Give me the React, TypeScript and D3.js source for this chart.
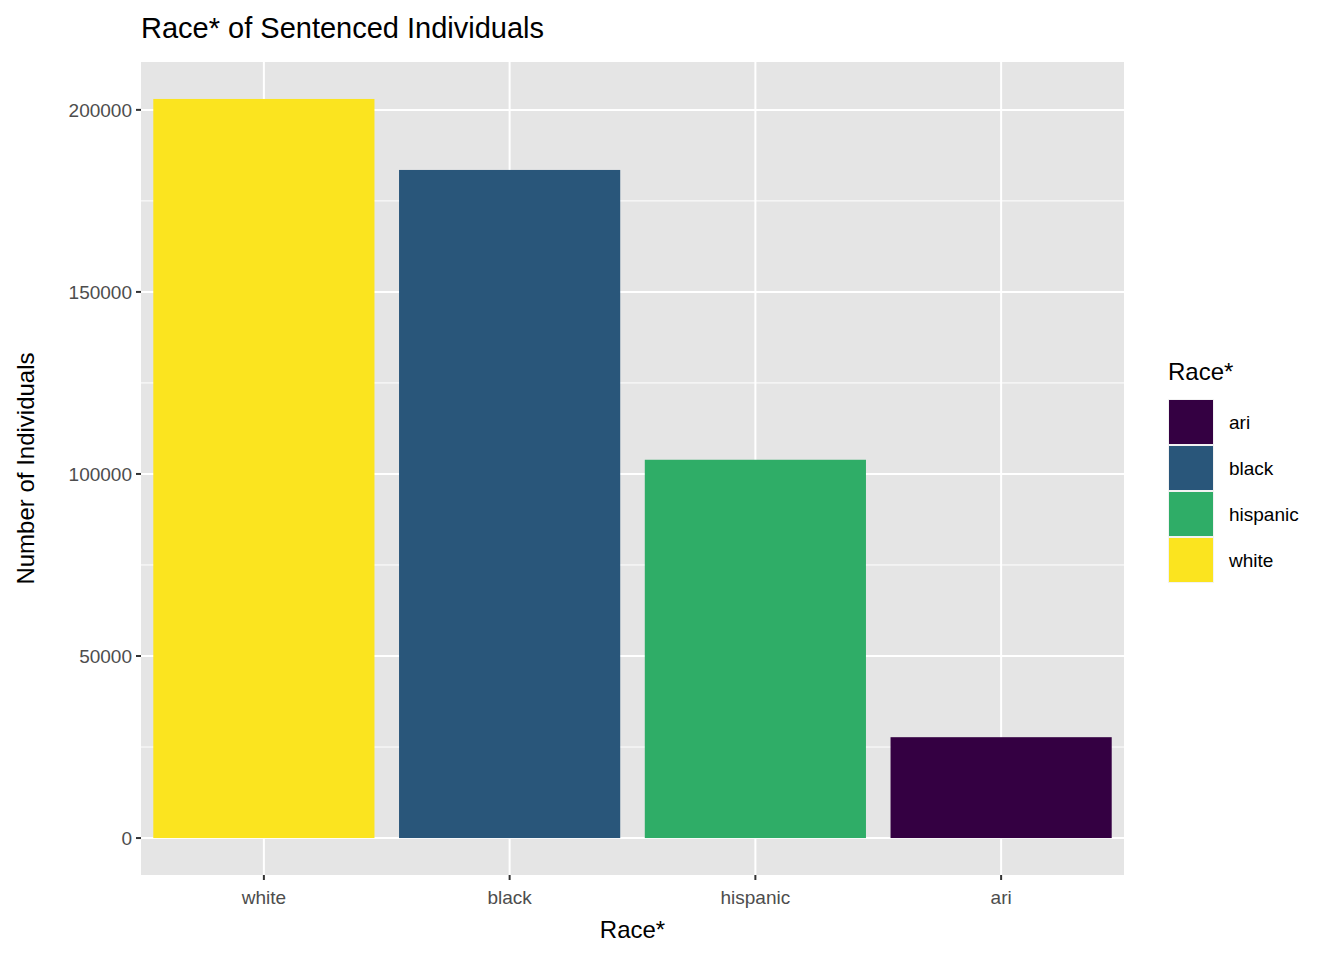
import * as d3 from "d3";

const categories = ["white", "black", "hispanic", "ari"];
const counts = [203000, 183500, 103900, 27700];
const legendOrder = ["ari", "black", "hispanic", "white"];
const colorMap: Record<string, string> = { ari: "#340042", black: "#29567A", hispanic: "#2FAD67", white: "#FBE41F" };
const yTicks = [0, 50000, 100000, 150000, 200000];

const W = 1344, H = 960;
const left = 141, right = 1124, top = 62, bottom = 875;

export default function App() {
  const x = d3.scaleBand().domain(categories).range([left, right]).paddingInner(0.1).paddingOuter(0.05);
  const y = d3.scaleLinear().domain([-10150, 213150]).range([bottom, top]);
  const minor = yTicks.slice(0, -1).map((t) => t + 25000);
  const font = "Liberation Sans, Arial, sans-serif";
  return (
    <svg width={W} height={H} style={{ display: "block", margin: -8 }} fontFamily={font}>
      <rect width={W} height={H} fill="white" />
      <rect x={left} y={top} width={right - left} height={bottom - top} fill="#E5E5E5" />
      {minor.map((t) => (
        <line key={t} x1={left} x2={right} y1={y(t)} y2={y(t)} stroke="white" strokeWidth={1} />
      ))}
      {yTicks.map((t) => (
        <line key={t} x1={left} x2={right} y1={y(t)} y2={y(t)} stroke="white" strokeWidth={2} />
      ))}
      {categories.map((c) => (
        <line key={c} x1={x(c)! + x.bandwidth() / 2} x2={x(c)! + x.bandwidth() / 2} y1={top} y2={bottom} stroke="white" strokeWidth={2} />
      ))}
      {categories.map((c, i) => (
        <rect key={c} x={x(c)} width={x.bandwidth()} y={y(counts[i])} height={y(0) - y(counts[i])} fill={colorMap[c]} />
      ))}
      {yTicks.map((t) => (
        <g key={t}>
          <line x1={left - 5} x2={left} y1={y(t)} y2={y(t)} stroke="#333" strokeWidth={2} />
          <text x={left - 9} y={y(t)} dy="0.35em" textAnchor="end" fontSize={19} fill="#4D4D4D">{t}</text>
        </g>
      ))}
      {categories.map((c) => (
        <g key={c}>
          <line x1={x(c)! + x.bandwidth() / 2} x2={x(c)! + x.bandwidth() / 2} y1={bottom} y2={bottom + 5} stroke="#333" strokeWidth={2} />
          <text x={x(c)! + x.bandwidth() / 2} y={bottom + 29} textAnchor="middle" fontSize={19} fill="#4D4D4D">{c}</text>
        </g>
      ))}
      <text x={(left + right) / 2} y={938} textAnchor="middle" fontSize={24}>Race*</text>
      <text transform={`translate(34,${(top + bottom) / 2}) rotate(-90)`} textAnchor="middle" fontSize={24}>Number of Individuals</text>
      <text x={141} y={38} fontSize={29}>Race* of Sentenced Individuals</text>
      <text x={1168} y={380} fontSize={24}>Race*</text>
      {legendOrder.map((c, i) => (
        <g key={c} transform={`translate(1168,${399 + i * 46})`}>
          <rect width={46} height={46} fill="#F2F2F2" />
          <rect x={1} y={1} width={44} height={44} fill={colorMap[c]} />
          <text x={61} y={23} dy="0.35em" fontSize={19}>{c}</text>
        </g>
      ))}
    </svg>
  );
}
